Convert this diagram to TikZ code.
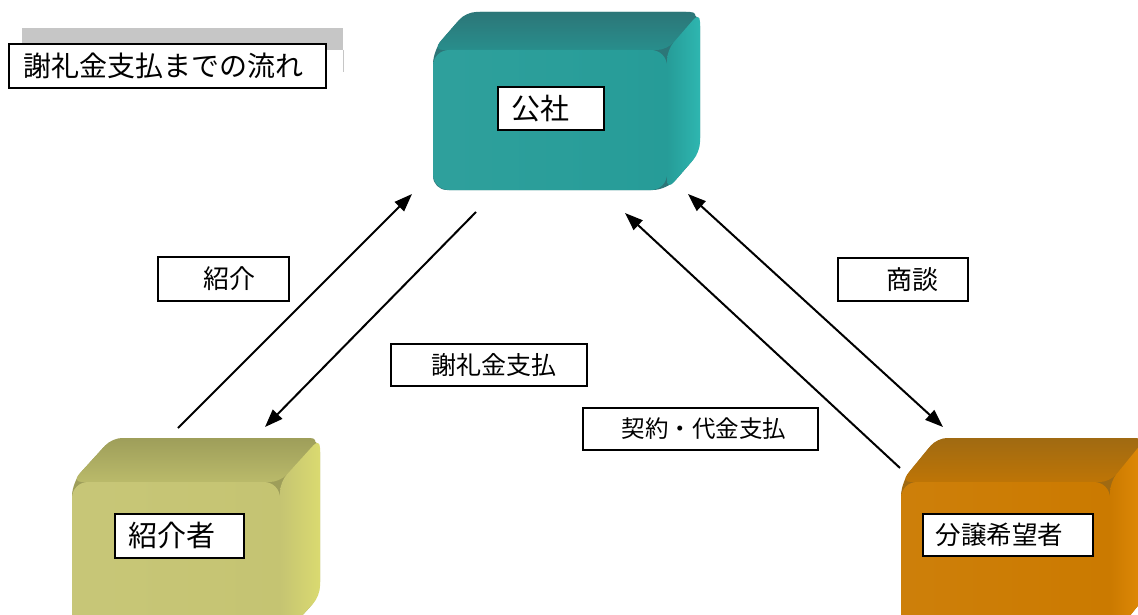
\documentclass[tikz,border=0pt]{standalone}
\usepackage{fontspec}
\setmainfont{Noto Sans CJK JP}
\usetikzlibrary{arrows.meta}
\definecolor{tealF}{RGB}{38,156,152}
\definecolor{tealT}{RGB}{44,118,120}
\definecolor{tealTT}{RGB}{40,142,140}
\definecolor{tealR}{RGB}{46,182,176}
\definecolor{oliveF}{RGB}{197,196,114}
\definecolor{oliveT}{RGB}{158,158,90}
\definecolor{oliveTT}{RGB}{186,186,106}
\definecolor{oliveR}{RGB}{218,218,112}
\definecolor{orangeF}{RGB}{203,122,0}
\definecolor{orangeT}{RGB}{160,106,18}
\definecolor{orangeTT}{RGB}{190,117,6}
\definecolor{orangeR}{RGB}{226,140,8}
\newcommand{\drawcube}[7]{%
  \fill[#7T, rounded corners=14pt] (#1,#4) -- (#1,#2) -- ({#1+#5},{#2+#6}) -- ({#3+#5},{#2+#6}) -- ({#3+#5},{#4+#6}) -- (#3,#4) -- cycle;
  \shade[top color=#7T, bottom color=#7TT, rounded corners=10pt] (#1,#2) -- ({#1+#5},{#2+#6}) -- ({#3+#5},{#2+#6}) -- (#3,#2) -- cycle;
  \shade[left color=#7F, right color=#7R, rounded corners=10pt] (#3,#2) -- ({#3+#5},{#2+#6}) -- ({#3+#5},{#4+#6}) -- (#3,#4) -- cycle;
  \shade[left color=#7F!96!white, right color=#7F, rounded corners=16pt] (#1,#2) rectangle (#3,#4);
}
\tikzset{
  lbl/.style={draw=black, line width=1.8pt, fill=white, inner xsep=0pt, inner ysep=0pt,
    align=left, anchor=north west, text=black},
  tip/.style={Triangle[length=18pt,width=13pt]},
  conn/.style={line width=2pt, -{Triangle[length=18pt,width=13pt]}},
  dconn/.style={line width=2pt, {Triangle[length=18pt,width=13pt]}-{Triangle[length=18pt,width=13pt]}}
}
\begin{document}
\begin{tikzpicture}[x=1pt,y=-1pt]
\useasboundingbox (0,0) rectangle (1138,615);
\begin{scope}
\clip (0,0) rectangle (1138,615);
% cubes
\drawcube{433}{50}{667}{190}{33}{-38}{teal}
\drawcube{72}{482}{280}{640}{40}{-44}{olive}
\drawcube{901}{482}{1110}{640}{36}{-44}{orange}
\end{scope}
% title strip
\fill[gray!45] (22,28) rectangle (343,50);
\draw[gray!45, line width=1pt] (343,50) -- (343,72);
% labels
\node[lbl, text width=317pt, minimum height=44pt, font=\fontsize{28pt}{32pt}\selectfont] (title) at (8,43) {\hspace*{15pt}謝礼金支払までの流れ};
\node[lbl, text width=106pt, minimum height=43pt, font=\fontsize{29pt}{33pt}\selectfont] (kosha) at (497,86) {\hspace*{14pt}公社};
\node[lbl, text width=129pt, minimum height=44pt, font=\fontsize{29pt}{33pt}\selectfont] (shokaisha) at (114,513) {\hspace*{14pt}紹介者};
\node[lbl, text width=170pt, minimum height=42pt, font=\fontsize{25.5pt}{30pt}\selectfont] (bunjo) at (922,513) {\hspace*{13pt}分譲希望者};
\node[lbl, text width=131pt, minimum height=44pt, font=\fontsize{26pt}{30pt}\selectfont] (lshokai) at (157,256) {\hspace*{46pt}紹介};
\node[lbl, text width=196pt, minimum height=42pt, font=\fontsize{25pt}{30pt}\selectfont] (lsharei) at (390,343) {\hspace*{41pt}謝礼金支払};
\node[lbl, text width=235pt, minimum height=42pt, font=\fontsize{23.5pt}{28pt}\selectfont] (lkeiyaku) at (582,407) {\hspace*{39pt}契約・代金支払};
\node[lbl, text width=130pt, minimum height=43pt, font=\fontsize{26pt}{30pt}\selectfont] (lshodan) at (837,257) {\hspace*{49pt}商談};
% connector ends
\coordinate (a1s) at (178,428);
\coordinate (a1e) at (412,194);
\coordinate (a2s) at (476,212);
\coordinate (a2e) at (265,427);
\coordinate (a3s) at (900,468);
\coordinate (a3e) at (625,213);
\coordinate (a4s) at (688,194);
\coordinate (a4e) at (943,427);
\draw[conn] (a1s) -- (a1e);
\draw[conn] (a2s) -- (a2e);
\draw[conn] (a3s) -- (a3e);
\draw[dconn] (a4s) -- (a4e);
\end{tikzpicture}
\end{document}
